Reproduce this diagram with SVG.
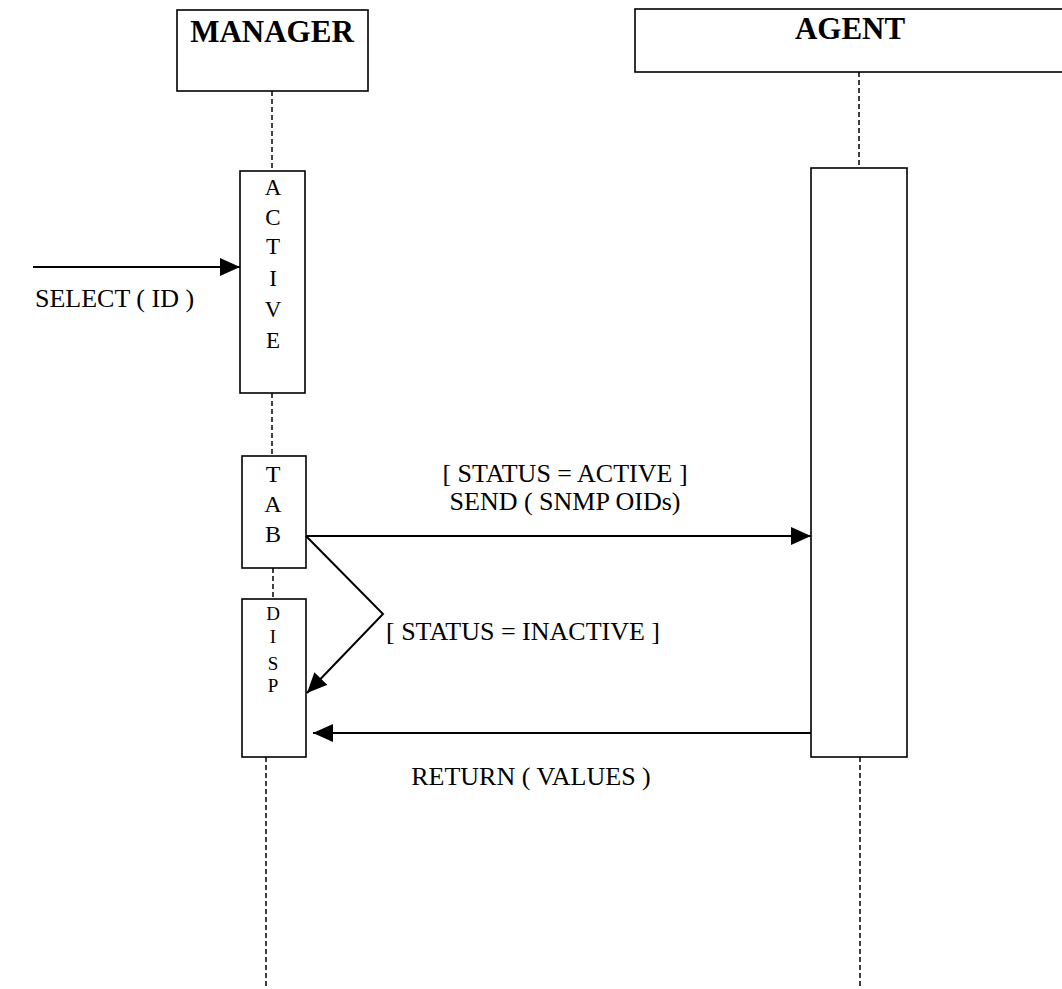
<svg xmlns="http://www.w3.org/2000/svg" width="1062" height="989" viewBox="0 0 1062 989">
<style>
.box{fill:#fff;stroke:#000;stroke-width:1.6}
.life{stroke:#000;stroke-width:1.5;stroke-dasharray:5 3;fill:none}
.msg{stroke:#000;stroke-width:2;fill:none}
.t{font-family:"Liberation Serif","Times New Roman",serif;fill:#000}
.title{font-size:31px;font-weight:bold;text-anchor:middle}
.lbl{font-size:26px}
.v{font-size:23px;text-anchor:middle}
.vt{font-size:24px;text-anchor:middle}
.vs{font-size:19px;text-anchor:middle}
</style>
<defs>
<marker id="ah" viewBox="0 0 20 18" refX="20" refY="9" markerWidth="20" markerHeight="18" markerUnits="userSpaceOnUse" orient="auto">
<path d="M0,0 L20,9 L0,18 z" fill="#000"/>
</marker>
</defs>
<rect width="1062" height="989" fill="#fff"/>
<g id="lifelines">
<line class="life" x1="272" y1="91" x2="272" y2="171"/>
<line class="life" x1="272" y1="393" x2="272" y2="456"/>
<line class="life" x1="273" y1="568" x2="273" y2="599"/>
<line class="life" x1="266" y1="757" x2="266" y2="989"/>
<line class="life" x1="859" y1="72" x2="859" y2="168"/>
<line class="life" x1="860" y1="757" x2="860" y2="989"/>
</g>
<g id="manager">
<rect class="box" x="177" y="10" width="191" height="81"/>
<text class="t title" x="272" y="42">MANAGER</text>
</g>
<g id="agent">
<rect class="box" x="635" y="9" width="440" height="63"/>
<text class="t title" x="850" y="39">AGENT</text>
</g>
<g id="active">
<rect class="box" x="240" y="171" width="65" height="222"/>
<text class="t v" x="273" y="195">A</text>
<text class="t v" x="273" y="225">C</text>
<text class="t v" x="273" y="254">T</text>
<text class="t v" x="273" y="286">I</text>
<text class="t v" x="273" y="317">V</text>
<text class="t v" x="273" y="348">E</text>
</g>
<g id="tab">
<rect class="box" x="242" y="456" width="64" height="112"/>
<text class="t vt" x="273" y="482">T</text>
<text class="t vt" x="273" y="512">A</text>
<text class="t vt" x="273" y="542">B</text>
</g>
<g id="disp">
<rect class="box" x="242" y="599" width="64" height="158"/>
<text class="t vs" x="273" y="620">D</text>
<text class="t vs" x="273" y="643">I</text>
<text class="t vs" x="273" y="670">S</text>
<text class="t vs" x="273" y="692">P</text>
</g>
<g id="agent-activation">
<rect class="box" x="811" y="168" width="96" height="589"/>
</g>
<g id="connectors">
<line class="msg" x1="33" y1="267" x2="240" y2="267" marker-end="url(#ah)"/>
<line class="msg" x1="306" y1="536" x2="811" y2="536" marker-end="url(#ah)"/>
<polyline class="msg" points="306,536 383,614 307,693" marker-end="url(#ah)"/>
<line class="msg" x1="811" y1="733" x2="313" y2="733" marker-end="url(#ah)"/>
</g>
<g id="labels">
<text class="t lbl" x="35" y="307">SELECT ( ID )</text>
<text class="t lbl" x="565" y="482" text-anchor="middle">[ STATUS = ACTIVE ]</text>
<text class="t lbl" x="565" y="510" text-anchor="middle">SEND ( SNMP OIDs)</text>
<text class="t lbl" x="386" y="640">[ STATUS = INACTIVE ]</text>
<text class="t lbl" x="531" y="785" text-anchor="middle">RETURN ( VALUES )</text>
</g>
</svg>
